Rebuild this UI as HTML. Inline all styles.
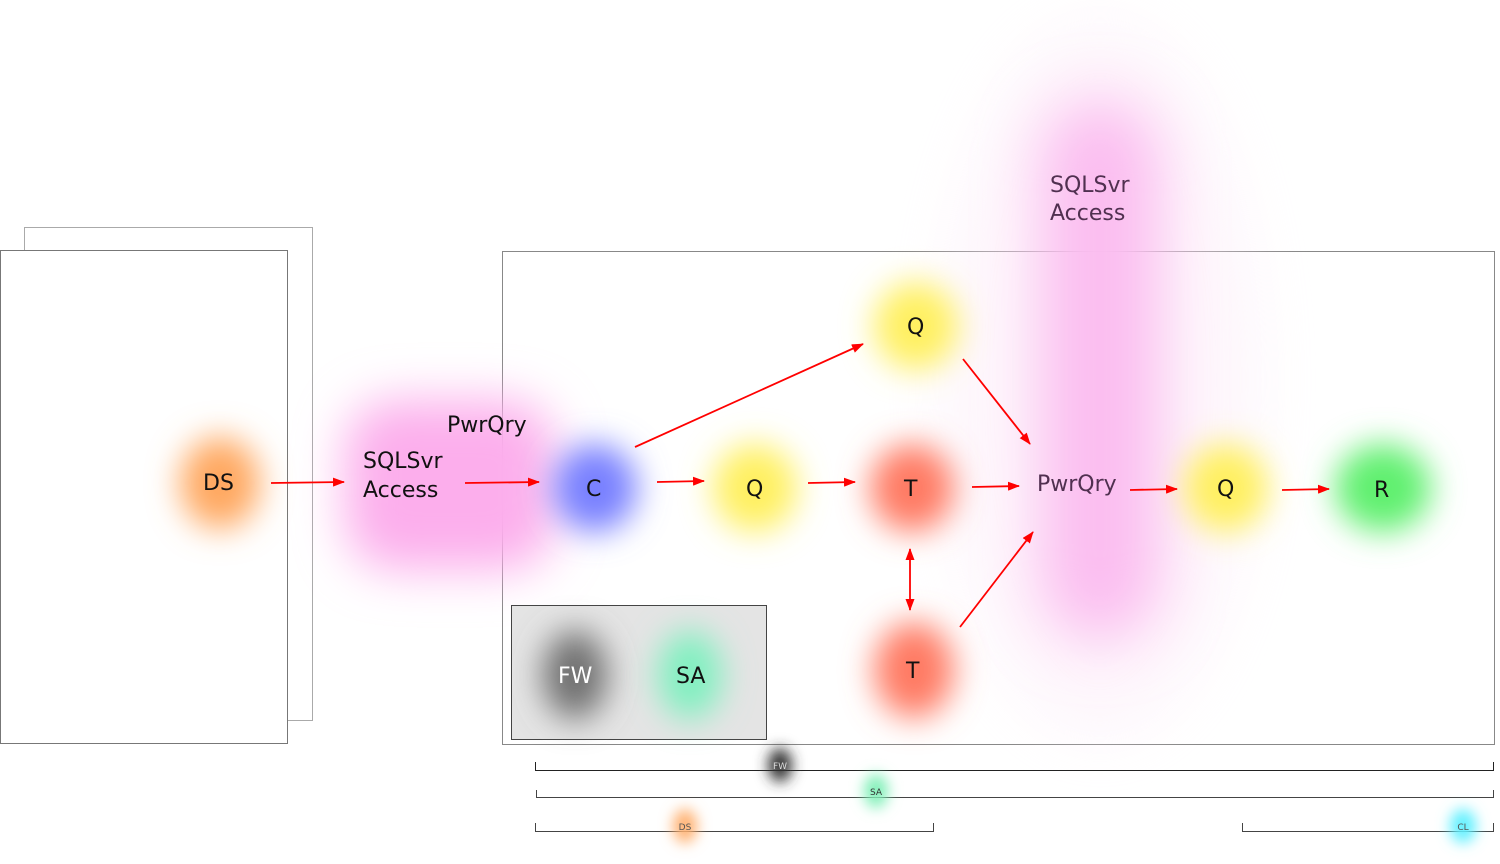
<!DOCTYPE html>
<html><head><meta charset="utf-8"><style>
html,body{margin:0;padding:0;background:#fff;width:1500px;height:864px;overflow:hidden}
svg{display:block}
text{font-family:"DejaVu Sans","Liberation Sans",sans-serif}
</style></head><body>
<svg width="1500" height="864" viewBox="0 0 1500 864" xmlns="http://www.w3.org/2000/svg">
<defs>
<filter id="b" x="-100%" y="-100%" width="300%" height="300%"><feGaussianBlur stdDeviation="16"/></filter>
<filter id="bp" x="-100%" y="-100%" width="300%" height="300%"><feGaussianBlur stdDeviation="24"/></filter>
<filter id="b2" x="-100%" y="-100%" width="300%" height="300%"><feGaussianBlur stdDeviation="30"/></filter>
<filter id="b3" x="-100%" y="-100%" width="300%" height="300%"><feGaussianBlur stdDeviation="7"/></filter>
<marker id="a" markerWidth="12" markerHeight="9" refX="11" refY="4.5" orient="auto" markerUnits="userSpaceOnUse"><path d="M0,0 L12,4.5 L0,9 z" fill="#f00"/></marker>
<marker id="as" markerWidth="12" markerHeight="9" refX="1" refY="4.5" orient="auto" markerUnits="userSpaceOnUse"><path d="M12,0 L0,4.5 L12,9 z" fill="#f00"/></marker>
</defs>
<rect x="24.5" y="227.5" width="288" height="493" fill="#fff" stroke="#aaa"/>
<rect x="0.5" y="250.5" width="287" height="493" fill="#fff" stroke="#777"/>
<rect x="502.5" y="251.5" width="992" height="493" fill="none" stroke="#888"/>
<ellipse cx="1100" cy="380" rx="160" ry="360" fill="#fce6f6" opacity="0.35" filter="url(#b2)"/>
<rect x="1040" y="100" width="120" height="540" rx="60" fill="#fbbdf0" filter="url(#b2)"/>
<rect x="345" y="400" width="210" height="170" rx="50" fill="#fcaeec" filter="url(#bp)"/>
<ellipse cx="220" cy="483" rx="40" ry="46" fill="#ffa860" filter="url(#b)"/>
<ellipse cx="595" cy="488" rx="42" ry="44" fill="#7880ff" filter="url(#b)"/>
<ellipse cx="755" cy="488" rx="42" ry="44" fill="#fff060" filter="url(#b)"/>
<ellipse cx="912" cy="488" rx="42" ry="44" fill="#ff7a64" filter="url(#b)"/>
<ellipse cx="916" cy="326" rx="42" ry="44" fill="#fff060" filter="url(#b)"/>
<ellipse cx="914" cy="670" rx="40" ry="48" fill="#ff7a64" filter="url(#b)"/>
<ellipse cx="1226" cy="488" rx="42" ry="44" fill="#fff060" filter="url(#b)"/>
<ellipse cx="1383" cy="488" rx="48" ry="44" fill="#60f070" filter="url(#b)"/>
<rect x="511.5" y="605.5" width="255" height="134" fill="#e4e4e4" stroke="#444"/>
<ellipse cx="575" cy="675" rx="32" ry="44" fill="#707070" filter="url(#b)"/>
<ellipse cx="690" cy="675" rx="32" ry="44" fill="#80f0c0" filter="url(#b)"/>
<path d="M535.5,762 V770.5 H1493.5 V762" fill="none" stroke="#222"/>
<path d="M536.5,790 V797.5 H1493.5 V790" fill="none" stroke="#444"/>
<path d="M535.5,823 V831.5 H933.5 V823" fill="none" stroke="#444"/>
<path d="M1242.5,823 V831.5 H1493.5 V823" fill="none" stroke="#444"/>
<ellipse cx="780" cy="765" rx="12" ry="17" fill="#333" filter="url(#b3)"/>
<ellipse cx="876" cy="791" rx="12" ry="17" fill="#80f0b8" filter="url(#b3)"/>
<ellipse cx="685" cy="826" rx="12" ry="17" fill="#ffb070" filter="url(#b3)"/>
<ellipse cx="1463" cy="826" rx="13" ry="17" fill="#60f0ff" filter="url(#b3)"/>
<g font-size="9" text-anchor="middle">
<text x="780" y="769" fill="#ddd">FW</text>
<text x="876" y="795" fill="#333">SA</text>
<text x="685" y="830" fill="#555">DS</text>
<text x="1463" y="830" fill="#555">CL</text>
</g>
<g stroke="#f00" stroke-width="1.8" fill="none" marker-end="url(#a)">
<line x1="271" y1="483" x2="344" y2="482"/>
<line x1="465" y1="483" x2="539" y2="482"/>
<line x1="657" y1="482" x2="704" y2="481"/>
<line x1="808" y1="483" x2="855" y2="482"/>
<line x1="972" y1="487" x2="1019" y2="486"/>
<line x1="1130" y1="490" x2="1177" y2="489"/>
<line x1="1282" y1="490" x2="1329" y2="489"/>
<line x1="635" y1="447" x2="863" y2="344"/>
<line x1="963" y1="359" x2="1030" y2="444"/>
<line x1="960" y1="627" x2="1033" y2="532"/>
<line x1="910" y1="549" x2="910" y2="610" marker-start="url(#as)"/>
</g>
<g font-size="22" fill="#111">
<text x="203" y="490">DS</text>
<text x="363" y="468">SQLSvr</text>
<text x="363" y="497">Access</text>
<text x="447" y="432">PwrQry</text>
<text x="586" y="496">C</text>
<text x="746" y="496">Q</text>
<text x="904" y="496">T</text>
<text x="907" y="334">Q</text>
<text x="906" y="678">T</text>
<text x="1217" y="496">Q</text>
<text x="1374" y="497">R</text>
<text x="676" y="683">SA</text>
</g>
<text x="558" y="683" font-size="22" fill="#fff">FW</text>
<text x="1037" y="491" font-size="22" fill="#503050">PwrQry</text>
<text x="1050" y="192" font-size="22" fill="#503050">SQLSvr</text>
<text x="1050" y="220" font-size="22" fill="#503050">Access</text>
</svg>
</body></html>
